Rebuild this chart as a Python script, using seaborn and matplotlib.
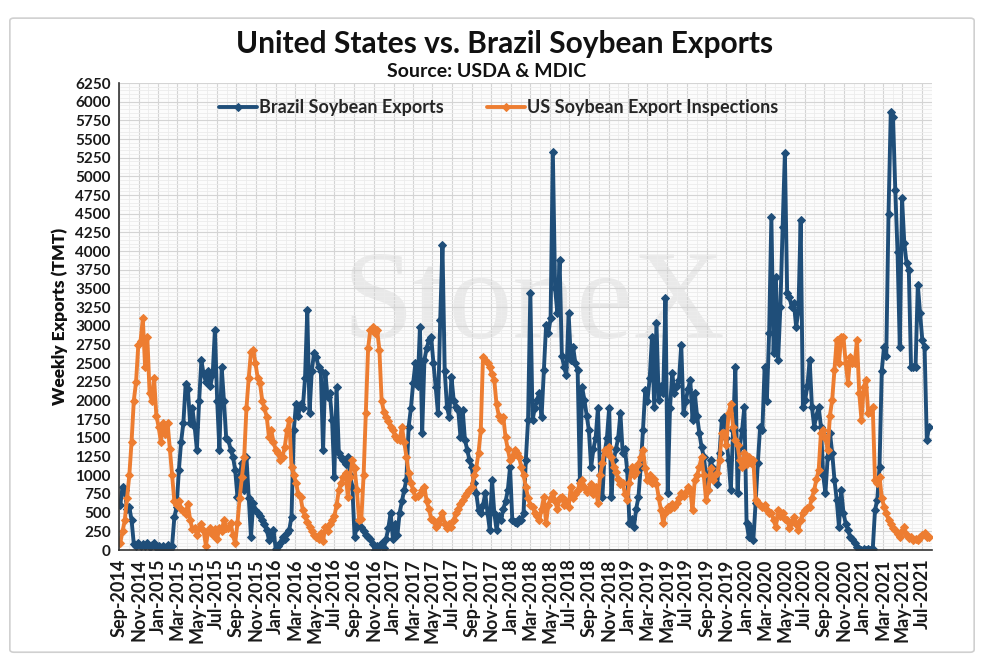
import numpy as np
import pandas as pd
import seaborn as sns
import matplotlib.pyplot as plt
import matplotlib.dates as mdates
from matplotlib.patches import FancyBboxPatch
from matplotlib.ticker import MultipleLocator

# Brazil weekly soybean exports (TMT), one list per Sep-Aug season
brazil_2014_15 = [600, 850, 800, 550, 575, 400, 80, 60, 100, 50, 80, 60, 100, 40, 70, 100, 40, 60, 20, 50,
                  30, 70, 20, 60, 440, 580, 1070, 1450, 1700, 2220, 2150, 1700, 1900, 1650, 1340, 2000, 2540,
                  2350, 2250, 2400, 2200, 2350, 2950, 2000, 1340, 2450, 2000, 1500, 1470, 1340, 1250, 1070]
brazil_2015_16 = [710, 1000, 1165, 800, 1245, 700, 175, 630, 535, 495, 450, 400, 350, 270, 134, 200, 270, 10,
                  60, 90, 175, 150, 230, 270, 445, 1600, 1960, 1800, 1960, 1900, 2300, 3210, 1830, 2400, 2635,
                  2585, 2450, 2400, 1340, 2370, 2050, 2100, 1740, 980, 2180, 1300, 1250, 1200, 1150, 1245, 1000, 845]
brazil_2016_17 = [175, 310, 400, 310, 250, 200, 175, 150, 80, 0, 60, 40, 100, 30, 150, 300, 500, 150, 350, 200,
                  500, 650, 800, 940, 1650, 1900, 2235, 2500, 2200, 2985, 1570, 2545, 2700, 2810, 2850, 2500,
                  2180, 1830, 3080, 4080, 2400, 1915, 1780, 2315, 2000, 1915, 1875, 1510, 1870, 1470, 1340, 1200]
brazil_2017_18 = [1110, 900, 760, 535, 495, 600, 760, 500, 270, 940, 500, 270, 450, 400, 550, 650, 800, 1110,
                  400, 380, 360, 420, 400, 495, 1200, 1740, 3440, 1740, 1900, 2010, 2100, 1780, 2410, 3010, 2900,
                  3100, 5330, 3500, 3170, 3880, 2600, 2450, 2340, 3170, 2545, 2720, 2500, 2410, 940, 2180, 2010, 1800]
brazil_2018_19 = [1600, 1110, 1350, 1500, 1900, 1000, 710, 1300, 1500, 1900, 710, 1200, 1350, 1500, 1830, 1300,
                  1350, 1070, 360, 420, 310, 550, 710, 1110, 1600, 2140, 2000, 2300, 2850, 1915, 3040, 2010,
                  2200, 2100, 3370, 760, 1900, 2370, 2100, 2200, 2275, 2745, 1830, 2000, 2150, 2275, 1740, 2100,
                  1800, 1570, 1380, 1250]
brazil_2019_20 = [1000, 800, 1200, 1100, 1070, 890, 1300, 1740, 1780, 1500, 1200, 800, 1600, 2450, 760, 1380,
                  1600, 1915, 360, 175, 300, 134, 630, 1165, 1650, 1600, 2450, 2000, 2900, 4460, 2640, 3655,
                  2545, 3255, 4325, 5315, 3440, 3390, 3255, 3300, 2985, 3200, 4415, 1915, 2010, 2200, 2545, 1915,
                  1650, 1800, 1915, 1650]
brazil_2020_21 = [1000, 760, 1245, 1570, 1300, 940, 670, 310, 800, 500, 350, 270, 175, 150, 100, 40, 20, 0, 10,
                  0, 20, 0, 10, 535, 670, 1110, 2400, 2720, 2600, 4500, 5865, 5800, 4820, 3990, 2720, 4710, 4110,
                  3840, 3750, 2450, 2450, 2450, 3550, 3170, 2810, 2720, 1470, 1650]

# US weekly soybean export inspections (TMT)
us_2014_15 = [100, 250, 400, 700, 1000, 1450, 2000, 2250, 2750, 2800, 3100, 2450, 2850, 2100, 2000, 2300, 1800,
              1650, 1450, 1700, 1550, 1700, 1350, 1000, 650, 600, 650, 550, 520, 480, 620, 400, 280, 300, 200,
              300, 350, 250, 60, 250, 300, 200, 280, 150, 300, 250, 400, 300, 300, 360, 200, 90]
us_2015_16 = [360, 700, 980, 1245, 1900, 2300, 2650, 2680, 2500, 2300, 2235, 2000, 1900, 1780, 1510, 1600, 1450,
              1340, 1300, 1200, 1250, 1380, 1600, 1740, 1110, 1000, 900, 750, 710, 535, 450, 380, 310, 250, 200,
              175, 150, 230, 120, 310, 250, 350, 400, 450, 600, 800, 900, 980, 1030, 710, 980, 1200]
us_2016_17 = [1100, 800, 400, 420, 1000, 1830, 2700, 2950, 2985, 2900, 2945, 2680, 2000, 1850, 1780, 1720, 1650,
              1600, 1530, 1480, 1470, 1650, 1450, 1250, 1030, 900, 800, 710, 720, 750, 800, 845, 650, 550, 420,
              400, 310, 350, 420, 495, 350, 300, 350, 310, 400, 495, 550, 620, 670, 720, 760, 800]
us_2017_18 = [845, 1000, 1100, 1300, 1600, 2585, 2545, 2500, 2450, 2350, 2275, 1950, 1800, 1740, 1780, 1510,
              1350, 1200, 1250, 1340, 1300, 1250, 1110, 1000, 845, 700, 600, 580, 495, 450, 400, 550, 710, 360,
              600, 700, 760, 650, 550, 700, 710, 600, 650, 580, 845, 700, 750, 800, 900, 940, 850, 780]
us_2018_19 = [800, 890, 750, 850, 630, 1000, 1165, 1340, 1300, 1380, 1250, 1110, 1050, 950, 890, 900, 750, 670,
              900, 1110, 1000, 1050, 1150, 1250, 1340, 1100, 940, 1000, 900, 950, 890, 700, 535, 360, 500, 580,
              550, 620, 580, 630, 700, 760, 720, 780, 845, 800, 535, 940, 1000, 1110, 1245, 1000]
us_2019_20 = [670, 800, 1100, 940, 1000, 1030, 1200, 1570, 1570, 1400, 1830, 1960, 1650, 1470, 1400, 1200, 1110,
              1300, 1150, 1250, 1165, 1200, 670, 630, 600, 580, 600, 540, 500, 495, 400, 310, 535, 450, 500, 420,
              400, 300, 380, 445, 350, 270, 400, 500, 535, 560, 580, 700, 800, 950, 1070, 1570]
us_2020_21 = [1600, 1500, 1340, 1800, 2010, 2410, 2810, 2500, 2850, 2850, 2500, 2235, 2585, 2500, 2500, 2810,
              2100, 1740, 2180, 2275, 1830, 1850, 1915, 940, 900, 980, 700, 580, 500, 400, 350, 300, 270, 220,
              175, 250, 310, 200, 160, 180, 134, 150, 140, 175, 200, 225, 180, 175]

brazil = (brazil_2014_15 + brazil_2015_16 + brazil_2016_17 + brazil_2017_18
          + brazil_2018_19 + brazil_2019_20 + brazil_2020_21)
us = us_2014_15 + us_2015_16 + us_2016_17 + us_2017_18 + us_2018_19 + us_2019_20 + us_2020_21
weeks = pd.date_range('2014-09-05', periods=len(brazil), freq='7D')

sns.set_theme(style='white')
plt.rcParams['font.family'] = ['Lato', 'DejaVu Sans']

fig = plt.figure(figsize=(9.86, 6.71), dpi=100)
fig.patches.append(FancyBboxPatch((0.010, 0.028), 0.978, 0.945, boxstyle='round,pad=0,rounding_size=0.004',
                                  transform=fig.transFigure, facecolor='white', edgecolor='#d0d0d0',
                                  linewidth=1.2, zorder=-5))
ax = fig.add_axes([0.1207, 0.1803, 0.8245, 0.696])
ax.set_facecolor('#fcfcfc')

blue = '#1f4e79'
orange = '#ed7d31'
sns.lineplot(x=weeks, y=brazil, ax=ax, color=blue, lw=2.8, marker='D', markersize=4.5,
             markeredgecolor=blue, label='Brazil Soybean Exports')
sns.lineplot(x=weeks, y=us, ax=ax, color=orange, lw=2.8, marker='D', markersize=4.5,
             markeredgecolor=orange, label='US Soybean Export Inspections')

ax.set_ylim(0, 6250)
ax.set_xlim(pd.Timestamp('2014-09-01'), pd.Timestamp('2021-08-01'))
ax.yaxis.set_major_locator(MultipleLocator(250))
ax.yaxis.set_minor_locator(MultipleLocator(50))
ax.xaxis.set_major_locator(mdates.MonthLocator(bymonth=[1, 3, 5, 7, 9, 11]))
ax.xaxis.set_minor_locator(mdates.MonthLocator())
ax.xaxis.set_major_formatter(mdates.DateFormatter('%b-%Y'))

ax.grid(which='major', axis='both', color='#d4d4d4', lw=0.8)
ax.grid(which='minor', axis='both', color='#ececec', lw=0.6)
ax.set_axisbelow(True)
for s in ['top', 'right']:
    ax.spines[s].set_visible(False)
for s in ['left', 'bottom']:
    ax.spines[s].set_color('#333333')
    ax.spines[s].set_linewidth(1.2)

ax.tick_params(axis='both', which='both', direction='out', color='#333333')
ax.tick_params(axis='both', which='major', length=4, width=1)
ax.tick_params(axis='both', which='minor', length=3, width=0.8)
ax.tick_params(axis='y', labelsize=11, pad=2)
ax.tick_params(axis='x', labelsize=13, pad=2, labelrotation=90)
for lab in ax.get_xticklabels() + ax.get_yticklabels():
    lab.set_fontweight('bold')
    lab.set_color('#1a1a1a')

ax.set_xlabel('')
ax.set_ylabel('Weekly Exports (TMT)', fontsize=12.5, fontweight='heavy', color='#111111', labelpad=5)

ax.text(0.51, 0.52, 'StoneX', transform=ax.transAxes, fontsize=92, family='Liberation Serif',
        color='#e9e9e9', ha='center', va='center', zorder=0.5)

ax.legend(loc='upper center', bbox_to_anchor=(0.467, 1.0), ncol=2, frameon=False,
          prop={'weight': 'bold', 'size': 13}, handlelength=2.1, columnspacing=2.4, handletextpad=0.1)

fig.text(0.512, 0.934, 'United States vs. Brazil Soybean Exports', ha='center', va='center',
         fontsize=21.5, fontweight='bold', color='#111111')
fig.text(0.494, 0.894, 'Source: USDA & MDIC', ha='center', va='center',
         fontsize=14, fontweight='bold', color='#111111')

fig.savefig('out.png', dpi=100)
